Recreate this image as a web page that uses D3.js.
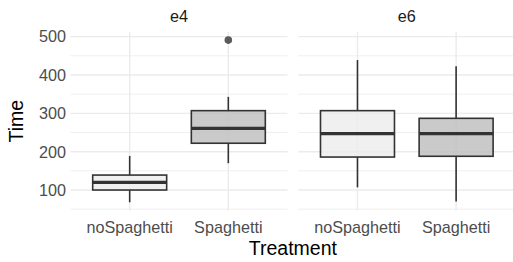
<!DOCTYPE html>
<html>
<head>
<meta charset="utf-8">
<script src="https://cdn.jsdelivr.net/npm/d3@7"></script>
<style>
  html, body { margin: 0; padding: 0; background: #fff; }
  text { font-family: "Liberation Sans", Arial, sans-serif; }
</style>
</head>
<body>
<div id="content"></div>
<script>
//-- data
const facets = ["e4", "e6"];
const treatments = ["noSpaghetti", "Spaghetti"];
const boxFacet = ["e4", "e4", "e6", "e6"];
const boxTreatment = ["noSpaghetti", "Spaghetti", "noSpaghetti", "Spaghetti"];
const whiskerLow = [68, 170, 107, 70];
const q1 = [100, 222, 186, 188];
const medians = [120, 261, 247, 247];
const q3 = [139, 307, 307, 287];
const whiskerHigh = [189, 343, 439, 423];
const outliers = [[], [491], [], []];
const yTicks = [100, 200, 300, 400, 500];
const yMinor = [50, 150, 250, 350, 450];
const fills = ["#ECECEC", "#BDBDBD"];

//-- dimensions
const width = 513;
const height = 262;
const panelTop = 32,
  panelBottom = 210.4,
  panelWidth = 217,
  panelLefts = [70.5, 298.3];
const tickSize = 16.2,
  titleSize = 19.5;

const boxes = boxFacet.map((f, i) => ({
  facet: f,
  treatment: boxTreatment[i],
  lo: whiskerLow[i],
  q1: q1[i],
  med: medians[i],
  q3: q3[i],
  hi: whiskerHigh[i],
  out: outliers[i],
}));

//-- y scale with ggplot style 5% expansion
const allVals = boxes.flatMap((d) => [d.lo, d.hi, ...d.out]);
const [vmin, vmax] = d3.extent(allVals);
const pad = (vmax - vmin) * 0.05;
const y = d3
  .scaleLinear()
  .domain([vmin - pad, vmax + pad])
  .range([panelBottom, panelTop]);

const fill = d3.scaleOrdinal().domain(treatments).range(fills);

const svg = d3
  .select("#content")
  .append("svg")
  .attr("width", width)
  .attr("height", height);

facets.forEach((facet, fi) => {
  const left = panelLefts[fi];
  const x = d3
    .scalePoint()
    .domain(treatments)
    .range([left, left + panelWidth])
    .padding(0.6);
  const boxW = x.step() * 0.75;
  const g = svg.append("g");

  //-- grid lines
  g.selectAll(".minor")
    .data(yMinor)
    .join("line")
    .attr("x1", left)
    .attr("x2", left + panelWidth)
    .attr("y1", (d) => y(d))
    .attr("y2", (d) => y(d))
    .attr("stroke", "#EBEBEB")
    .attr("stroke-width", 0.8);
  g.selectAll(".major")
    .data(yTicks)
    .join("line")
    .attr("x1", left)
    .attr("x2", left + panelWidth)
    .attr("y1", (d) => y(d))
    .attr("y2", (d) => y(d))
    .attr("stroke", "#EBEBEB")
    .attr("stroke-width", 1.4);
  g.selectAll(".vline")
    .data(treatments)
    .join("line")
    .attr("x1", (d) => x(d))
    .attr("x2", (d) => x(d))
    .attr("y1", panelTop)
    .attr("y2", panelBottom)
    .attr("stroke", "#EBEBEB")
    .attr("stroke-width", 1.4);

  //-- strip label
  svg
    .append("text")
    .attr("x", left + panelWidth / 2)
    .attr("y", 21.5)
    .attr("text-anchor", "middle")
    .attr("font-size", tickSize)
    .attr("fill", "#1A1A1A")
    .text(facet);

  //-- x tick labels
  g.selectAll(".xlab")
    .data(treatments)
    .join("text")
    .attr("x", (d) => x(d))
    .attr("y", 233)
    .attr("text-anchor", "middle")
    .attr("font-size", tickSize)
    .attr("fill", "#4D4D4D")
    .text((d) => d);

  //-- boxes
  const bx = g
    .selectAll(".box")
    .data(boxes.filter((d) => d.facet === facet))
    .join("g");
  bx.append("line")
    .attr("x1", (d) => x(d.treatment))
    .attr("x2", (d) => x(d.treatment))
    .attr("y1", (d) => y(d.hi))
    .attr("y2", (d) => y(d.q3))
    .attr("stroke", "#333333")
    .attr("stroke-width", 1.6);
  bx.append("line")
    .attr("x1", (d) => x(d.treatment))
    .attr("x2", (d) => x(d.treatment))
    .attr("y1", (d) => y(d.q1))
    .attr("y2", (d) => y(d.lo))
    .attr("stroke", "#333333")
    .attr("stroke-width", 1.6);
  bx.append("rect")
    .attr("x", (d) => x(d.treatment) - boxW / 2)
    .attr("width", boxW)
    .attr("y", (d) => y(d.q3))
    .attr("height", (d) => y(d.q1) - y(d.q3))
    .attr("fill", (d) => fill(d.treatment))
    .attr("fill-opacity", 0.8)
    .attr("stroke", "#333333")
    .attr("stroke-width", 1.6);
  bx.append("line")
    .attr("x1", (d) => x(d.treatment) - boxW / 2)
    .attr("x2", (d) => x(d.treatment) + boxW / 2)
    .attr("y1", (d) => y(d.med))
    .attr("y2", (d) => y(d.med))
    .attr("stroke", "#333333")
    .attr("stroke-width", 3.2);
  bx.selectAll("circle")
    .data((d) => d.out.map((v) => ({ v, t: d.treatment })))
    .join("circle")
    .attr("cx", (d) => x(d.t))
    .attr("cy", (d) => y(d.v))
    .attr("r", 3.8)
    .attr("fill", "#333333")
    .attr("fill-opacity", 0.8);
});

//-- y tick labels
svg
  .selectAll(".ylab")
  .data(yTicks)
  .join("text")
  .attr("x", 66)
  .attr("y", (d) => y(d))
  .attr("dy", "0.36em")
  .attr("text-anchor", "end")
  .attr("font-size", tickSize)
  .attr("fill", "#4D4D4D")
  .text((d) => d);

//-- axis titles
svg
  .append("text")
  .attr("x", (panelLefts[0] + panelLefts[1] + panelWidth) / 2)
  .attr("y", 255)
  .attr("text-anchor", "middle")
  .attr("font-size", titleSize)
  .attr("fill", "#000")
  .text("Treatment");
svg
  .append("text")
  .attr("transform", `translate(23, ${(panelTop + panelBottom) / 2}) rotate(-90)`)
  .attr("text-anchor", "middle")
  .attr("font-size", titleSize)
  .attr("fill", "#000")
  .text("Time");
</script>
</body>
</html>
